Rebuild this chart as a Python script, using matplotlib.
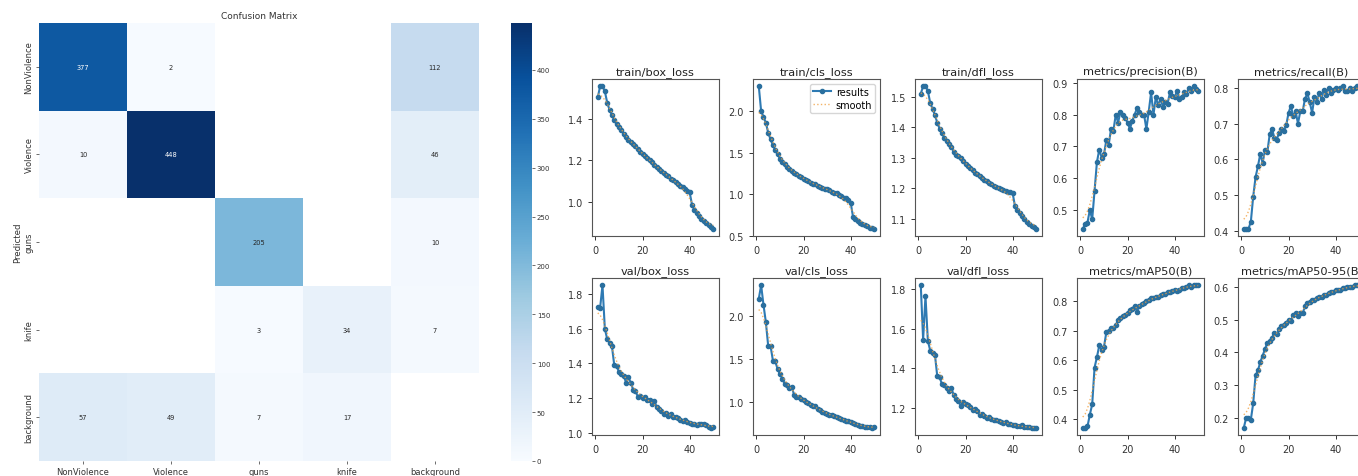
import numpy as np
import matplotlib
matplotlib.use("Agg")
import matplotlib.pyplot as plt
from matplotlib.ticker import MultipleLocator
import seaborn as sns

# ─── Confusion matrix data (rows = predicted, cols = true, 0 = empty) ───────
CLASSES = ["NonViolence", "Violence", "guns", "knife", "background"]
PRED_NONVIOLENCE = [377, 2, 0, 0, 112]
PRED_VIOLENCE = [10, 448, 0, 0, 46]
PRED_GUNS = [0, 0, 205, 0, 10]
PRED_KNIFE = [0, 0, 3, 34, 7]
PRED_BACKGROUND = [57, 49, 7, 17, 0]
CBAR_TICKS = [0, 50, 100, 150, 200, 250, 300, 350, 400]

# ─── Training curves (epochs 1..50) ─────────────────────────────────────────
EPOCHS = list(range(1, 51))

train_box_loss = [1.505, 1.56, 1.56, 1.535, 1.48, 1.445, 1.42, 1.395, 1.375, 1.36,
                  1.345, 1.33, 1.315, 1.30, 1.29, 1.28, 1.268, 1.255, 1.243, 1.232,
                  1.222, 1.212, 1.20, 1.19, 1.178, 1.17, 1.16, 1.15, 1.14, 1.13,
                  1.122, 1.112, 1.105, 1.095, 1.087, 1.078, 1.07, 1.06, 1.052, 1.045,
                  0.985, 0.96, 0.945, 0.93, 0.918, 0.905, 0.895, 0.885, 0.875, 0.868]
train_cls_loss = [2.30, 2.00, 1.93, 1.86, 1.74, 1.66, 1.59, 1.53, 1.48, 1.43,
                  1.39, 1.36, 1.33, 1.30, 1.28, 1.26, 1.24, 1.22, 1.21, 1.19,
                  1.17, 1.16, 1.14, 1.13, 1.12, 1.10, 1.09, 1.08, 1.07, 1.06,
                  1.05, 1.03, 1.02, 1.01, 0.99, 0.98, 0.96, 0.95, 0.93, 0.90,
                  0.73, 0.70, 0.68, 0.66, 0.64, 0.63, 0.62, 0.60, 0.59, 0.585]
train_dfl_loss = [1.51, 1.535, 1.535, 1.52, 1.48, 1.46, 1.44, 1.415, 1.395, 1.38,
                  1.365, 1.355, 1.345, 1.335, 1.32, 1.31, 1.305, 1.30, 1.29, 1.28,
                  1.272, 1.265, 1.258, 1.25, 1.245, 1.24, 1.234, 1.228, 1.222, 1.217,
                  1.212, 1.207, 1.203, 1.199, 1.196, 1.193, 1.19, 1.188, 1.186, 1.183,
                  1.14, 1.128, 1.118, 1.108, 1.098, 1.09, 1.082, 1.076, 1.071, 1.066]
precision = [0.44, 0.455, 0.46, 0.50, 0.47, 0.56, 0.65, 0.69, 0.665, 0.675,
             0.72, 0.705, 0.755, 0.75, 0.80, 0.775, 0.81, 0.80, 0.79, 0.775,
             0.755, 0.78, 0.80, 0.82, 0.81, 0.80, 0.80, 0.755, 0.81, 0.87,
             0.80, 0.855, 0.83, 0.85, 0.825, 0.84, 0.835, 0.87, 0.86, 0.855,
             0.875, 0.85, 0.855, 0.87, 0.865, 0.885, 0.875, 0.89, 0.88, 0.875]
recall = [0.405, 0.405, 0.405, 0.425, 0.495, 0.55, 0.58, 0.615, 0.59, 0.625,
          0.62, 0.67, 0.685, 0.66, 0.655, 0.675, 0.685, 0.68, 0.695, 0.73,
          0.75, 0.72, 0.735, 0.70, 0.735, 0.735, 0.77, 0.785, 0.76, 0.73,
          0.775, 0.76, 0.785, 0.77, 0.795, 0.78, 0.80, 0.785, 0.795, 0.80,
          0.795, 0.80, 0.805, 0.79, 0.79, 0.80, 0.79, 0.80, 0.805, 0.80]
val_box_loss = [1.725, 1.72, 1.85, 1.60, 1.54, 1.52, 1.50, 1.39, 1.385, 1.35,
                1.34, 1.33, 1.29, 1.32, 1.29, 1.25, 1.24, 1.21, 1.215, 1.20,
                1.21, 1.19, 1.19, 1.165, 1.185, 1.15, 1.14, 1.125, 1.11, 1.115,
                1.10, 1.11, 1.095, 1.09, 1.085, 1.075, 1.07, 1.075, 1.065, 1.06,
                1.055, 1.05, 1.045, 1.05, 1.055, 1.05, 1.045, 1.035, 1.03, 1.035]
val_cls_loss = [2.20, 2.36, 2.13, 1.93, 1.65, 1.65, 1.48, 1.47, 1.38, 1.32,
                1.27, 1.21, 1.20, 1.16, 1.17, 1.08, 1.06, 1.05, 1.03, 1.02,
                1.00, 0.98, 0.96, 0.95, 0.95, 0.92, 0.90, 0.88, 0.87, 0.86,
                0.85, 0.84, 0.83, 0.82, 0.81, 0.80, 0.79, 0.78, 0.77, 0.76,
                0.75, 0.74, 0.73, 0.72, 0.715, 0.71, 0.705, 0.70, 0.695, 0.70]
val_dfl_loss = [1.82, 1.545, 1.765, 1.54, 1.49, 1.48, 1.47, 1.36, 1.355, 1.32,
                1.315, 1.30, 1.285, 1.30, 1.265, 1.245, 1.235, 1.21, 1.23, 1.22,
                1.215, 1.205, 1.19, 1.195, 1.185, 1.165, 1.17, 1.16, 1.15, 1.155,
                1.145, 1.14, 1.14, 1.135, 1.13, 1.125, 1.13, 1.12, 1.118, 1.115,
                1.112, 1.11, 1.108, 1.112, 1.105, 1.104, 1.102, 1.10, 1.10, 1.10]
map50 = [0.37, 0.37, 0.375, 0.415, 0.45, 0.575, 0.61, 0.65, 0.635, 0.645,
         0.695, 0.70, 0.71, 0.71, 0.72, 0.735, 0.745, 0.75, 0.755, 0.76,
         0.77, 0.775, 0.785, 0.765, 0.785, 0.79, 0.795, 0.80, 0.805, 0.81,
         0.81, 0.815, 0.815, 0.82, 0.825, 0.825, 0.83, 0.83, 0.835, 0.84,
         0.835, 0.84, 0.845, 0.845, 0.85, 0.855, 0.85, 0.855, 0.855, 0.855]
map50_95 = [0.17, 0.20, 0.20, 0.195, 0.245, 0.33, 0.345, 0.37, 0.39, 0.41,
            0.43, 0.435, 0.445, 0.46, 0.455, 0.47, 0.48, 0.485, 0.49, 0.50,
            0.495, 0.515, 0.52, 0.51, 0.52, 0.52, 0.54, 0.55, 0.555, 0.56,
            0.56, 0.565, 0.57, 0.57, 0.575, 0.575, 0.58, 0.585, 0.585, 0.59,
            0.59, 0.59, 0.595, 0.595, 0.60, 0.60, 0.60, 0.605, 0.605, 0.605]

PANELS = [
    ("train/box_loss", train_box_loss, 0.2),
    ("train/cls_loss", train_cls_loss, 0.5),
    ("train/dfl_loss", train_dfl_loss, 0.1),
    ("metrics/precision(B)", precision, 0.1),
    ("metrics/recall(B)", recall, 0.1),
    ("val/box_loss", val_box_loss, 0.2),
    ("val/cls_loss", val_cls_loss, 0.5),
    ("val/dfl_loss", val_dfl_loss, 0.2),
    ("metrics/mAP50(B)", map50, 0.1),
    ("metrics/mAP50-95(B)", map50_95, 0.1),
]


def smooth(y, sigma=3):
    """Gaussian smoothing (reflect padding), like gaussian_filter1d."""
    y = np.asarray(y, dtype=float)
    r = int(4 * sigma + 0.5)
    k = np.exp(-0.5 * (np.arange(-r, r + 1) / sigma) ** 2)
    k /= k.sum()
    return np.convolve(np.pad(y, r, mode="symmetric"), k, mode="valid")


W, H = 1358, 477
fig = plt.figure(figsize=(W / 100, H / 100), dpi=100)
fig.patch.set_facecolor("white")


def px_axes(x0, y0, x1, y1):
    return fig.add_axes([x0 / W, 1 - y1 / H, (x1 - x0) / W, (y1 - y0) / H])


# ─── Confusion matrix ───────────────────────────────────────────────────────
cm = np.array([PRED_NONVIOLENCE, PRED_VIOLENCE, PRED_GUNS, PRED_KNIFE,
               PRED_BACKGROUND], dtype=float)
cm[cm < 0.005] = np.nan

ax_cm = px_axes(39, 24, 479, 462)
cax = px_axes(511, 24, 532, 462)
sns.heatmap(cm, ax=ax_cm, cbar_ax=cax, cmap="Blues", vmin=0,
            vmax=np.nanmax(cm), annot=True, fmt=".0f",
            annot_kws={"size": 4.8}, xticklabels=CLASSES,
            yticklabels=CLASSES)
ax_cm.set_title("Confusion Matrix", fontsize=6.5, pad=3.5, color="#333333")
ax_cm.set_ylabel("Predicted", fontsize=6.2, color="#333333", labelpad=2)
ax_cm.tick_params(axis="both", labelsize=6, length=2, width=0.5,
                  colors="#333333", pad=2)
plt.setp(ax_cm.get_yticklabels(), rotation=90, va="center")
plt.setp(ax_cm.get_xticklabels(), rotation=0)

cax.yaxis.set_ticks(CBAR_TICKS)
cax.tick_params(labelsize=5, length=2, width=0.5, colors="#333333", pad=1.5)

# ─── Training result panels ─────────────────────────────────────────────────
col_lefts = [592, 753, 915, 1077, 1238]
row_spans = [(80, 237), (279, 436)]

for i, (title, vals, step) in enumerate(PANELS):
    r, c = divmod(i, 5)
    y0, y1 = row_spans[r]
    ax = px_axes(col_lefts[c], y0, col_lefts[c] + 127, y1)
    ax.plot(EPOCHS, vals, marker=".", linewidth=1.5, markersize=6,
            color="#2e7ab3", markerfacecolor="#2a6f9e",
            markeredgecolor="#2a6f9e", label="results")
    ax.plot(EPOCHS, smooth(vals), ":", linewidth=1.0, color="#f0a040",
            alpha=0.8, label="smooth")
    ax.set_title(title, fontsize=8.2, pad=3.5, color="#222222")
    ax.set_xticks([0, 20, 40])
    ax.yaxis.set_major_locator(MultipleLocator(step))
    ax.tick_params(labelsize=7, colors="#333333", width=0.7, length=3)
    for s in ax.spines.values():
        s.set_color("#555555")
        s.set_linewidth(0.8)
    if i == 1:
        ax.legend(loc="upper right", fontsize=7, handlelength=1.8,
                  borderpad=0.3, labelspacing=0.3, handletextpad=0.5)

fig.savefig("out.png", dpi=100)
